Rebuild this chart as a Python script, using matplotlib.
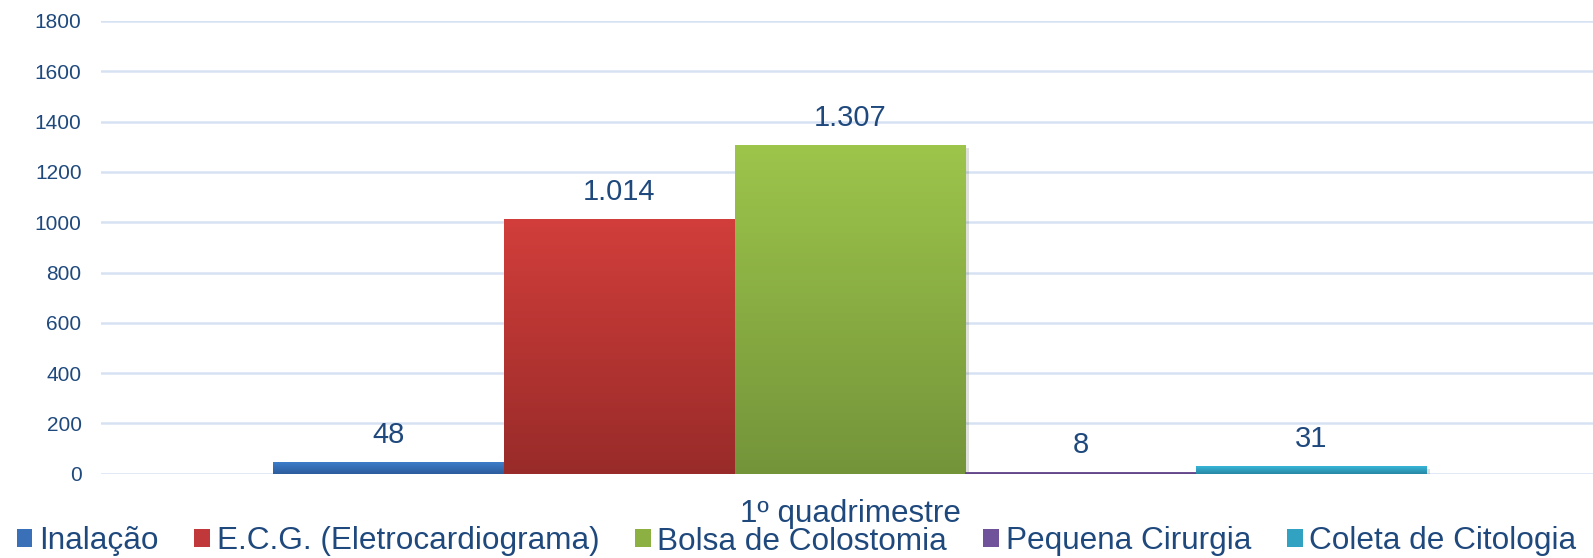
import matplotlib
matplotlib.use("Agg")
import matplotlib.pyplot as plt
import matplotlib.patheffects as pe
from matplotlib.patches import Patch
from matplotlib.colors import LinearSegmentedColormap
import numpy as np

plt.rcParams['font.family'] = ['Liberation Sans', 'DejaVu Sans']

# ---- data ----
category = ["1º quadrimestre"]
series = ["Inalação", "E.C.G. (Eletrocardiograma)", "Bolsa de Colostomia",
          "Pequena Cirurgia", "Coleta de Citologia"]
values = [48, 1014, 1307, 8, 31]
value_labels = ["48", "1.014", "1.307", "8", "31"]
yticks = [0, 200, 400, 600, 800, 1000, 1200, 1400, 1600, 1800]

top_colors = ["#3F80CE", "#D23E3B", "#9DC54B", "#8060AA", "#38B6D8"]
bottom_colors = ["#2C5C9C", "#982B29", "#74943A", "#5E4382", "#2887A4"]
mid_colors = ["#3A70B8", "#C0383A", "#8DB043", "#6F529A", "#31A2C2"]

text_color = "#1F497D"
grid_color = "#D6E2F2"

W, H = 1593, 558
fig = plt.figure(figsize=(W / 100, H / 100), dpi=100)
ax = fig.add_axes([101 / W, 1 - 473.7 / H, 1498 / W, (473.7 - 21) / H])

n = len(series)
bw = 0.154
xs = [(i - (n - 1) / 2) * bw for i in range(n)]

for i, (x, v) in enumerate(zip(xs, values)):
    bar = ax.bar(x, v, width=bw, color=mid_colors[i], zorder=3,
                 path_effects=[pe.SimplePatchShadow(offset=(2.5, -2), alpha=0.15),
                               pe.Normal()])[0]
    cmap = LinearSegmentedColormap.from_list("g%d" % i, [bottom_colors[i], top_colors[i]])
    grad = np.linspace(0, 1, 256).reshape(-1, 1)
    im = ax.imshow(grad, cmap=cmap, origin="lower", aspect="auto",
                   extent=(x - bw / 2, x + bw / 2, 0, max(v, 1)), zorder=4)
    im.set_clip_path(bar)
    ax.annotate(value_labels[i], (x, v), xytext=(0, 9), textcoords="offset points",
                ha="center", va="bottom", fontsize=21, color=text_color, zorder=5)

ax.set_xlim(-0.5, 0.5)
ax.set_ylim(0, 1800)
ax.set_yticks(yticks)
ax.set_yticklabels([str(t) for t in yticks])
ax.set_xticks([0])
ax.set_xticklabels(category)
ax.tick_params(axis="y", length=0, pad=14, labelsize=15, labelcolor=text_color)
ax.tick_params(axis="x", length=0, pad=18, labelsize=22.6, labelcolor=text_color)
ax.grid(axis="y", color=grid_color, linewidth=1.8, zorder=0)
ax.set_axisbelow(True)
for s in ax.spines.values():
    s.set_visible(False)

handles = [Patch(facecolor=c, edgecolor="none") for c in mid_colors]
fig.legend(handles, series, loc="center", bbox_to_anchor=(0.5, 1 - 541.5 / H),
           ncol=5, frameon=False, fontsize=22.7, handlelength=0.5, handleheight=0.5,
           handletextpad=0.2, columnspacing=1.15, borderpad=0, borderaxespad=0,
           labelcolor=text_color)

fig.savefig("out.png", dpi=100)
